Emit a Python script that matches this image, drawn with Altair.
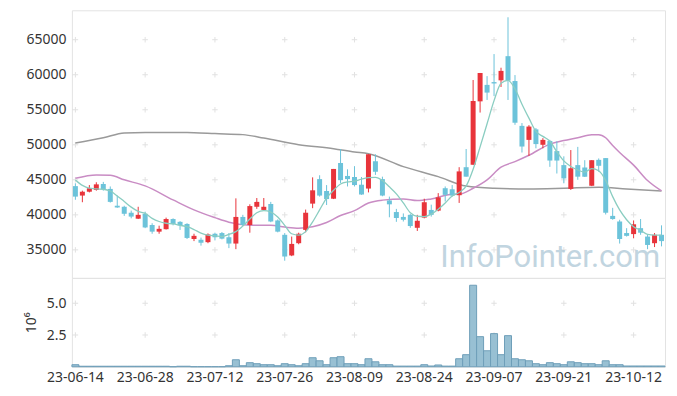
import altair as alt
import pandas as pd

# ---- categories: KRX trading days 2023-06-14 .. 2023-10-18 ----
holidays = ["2023-08-15", "2023-09-28", "2023-09-29", "2023-10-02", "2023-10-03", "2023-10-09"]
days = [d for d in pd.bdate_range("2023-06-14", "2023-10-18") if d.strftime("%Y-%m-%d") not in holidays]
dates = [d.strftime("%y-%m-%d") for d in days]

opens = [44100, 42750, 43300, 43550, 44400, 43700, 41300, 41150, 40300, 39450,
         40150, 38550, 37600, 37950, 39400, 39000, 38700, 36550, 36450, 36100,
         37300, 37400, 36800, 35900, 39700, 38550, 41150, 40700, 41550, 39200,
         37150, 34200, 35950, 37850, 41600, 45100, 43400, 42300, 47400, 45550,
         45400, 44300, 43750, 47650, 45100, 42050, 40400, 39700, 40000, 38150,
         39600, 40700, 40600, 43800, 43650, 42800, 46800, 47150, 56200, 58550,
         58950, 59200, 62650, 59100, 52700, 50700, 52200, 50000, 50550, 49100,
         47100, 43700, 47100, 46750, 44150, 47850, 48100, 39850, 39050, 37400,
         37250, 38100, 36900, 35950, 37150]
highs = [44500, 43450, 44250, 44650, 44700, 44050, 42750, 41300, 40600, 41150,
         40450, 38800, 38450, 39600, 39500, 39100, 38800, 37300, 36750, 37350,
         37450, 37550, 37400, 42350, 40000, 41500, 42400, 42400, 41850, 39350,
         37400, 36900, 37450, 40750, 45350, 45650, 44250, 46550, 49400, 46500,
         46950, 45400, 48650, 48650, 45450, 42600, 40850, 40200, 40100, 40000,
         42300, 41450, 43100, 44050, 44250, 46800, 49400, 59250, 60250, 59800,
         62950, 61000, 68200, 59950, 53100, 52800, 52400, 50950, 50700, 50500,
         48350, 49250, 49700, 47800, 47800, 48050, 48100, 41000, 39300, 38100,
         39200, 39400, 37250, 37400, 38500]
lows = [42150, 41800, 43200, 43450, 43450, 41750, 41000, 39850, 39500, 39400,
        38100, 37300, 37300, 37900, 38500, 37850, 36550, 36250, 35600, 35950,
        36350, 36500, 35250, 35100, 38400, 37450, 40850, 40650, 38950, 37500,
        33450, 34100, 35800, 37500, 40950, 42600, 41400, 42250, 44550, 44050,
        44050, 42850, 43200, 45700, 42650, 39650, 39000, 39050, 38150, 37700,
        39500, 39750, 40500, 41900, 42600, 41700, 45450, 47150, 54600, 56400,
        56950, 58250, 56400, 52850, 48900, 48400, 49500, 49500, 46850, 45900,
        44500, 43550, 45000, 45400, 44100, 46150, 40050, 39300, 35900, 36900,
        36650, 37150, 35100, 35400, 35500]
closes = [42600, 43300, 43800, 44350, 43650, 41850, 41050, 40150, 39750, 40000,
          38200, 37600, 38000, 39400, 38700, 38500, 36700, 37000, 36000, 37200,
          36800, 36600, 35900, 39700, 38550, 41250, 41850, 41150, 39050, 37600,
          34050, 35850, 37300, 40300, 43500, 42750, 42250, 46550, 44950, 45100,
          44250, 42900, 48650, 46150, 42750, 41500, 39550, 39300, 38400, 39150,
          41800, 40000, 42500, 42850, 42750, 46200, 45450, 56250, 60250, 57450,
          58750, 60550, 59150, 53150, 49750, 52600, 50100, 50700, 47750, 47750,
          45200, 46650, 45450, 45450, 47800, 47000, 40300, 39400, 36550, 37000,
          38650, 37450, 35700, 37150, 36250]
volume_m = [0.16, 0.04, 0.04, 0.04, 0.04, 0.04, 0.04, 0.04, 0.04, 0.04,
            0.04, 0.04, 0.04, 0.04, 0.0, 0.04, 0.04, 0.0, 0.0, 0.0,
            0.0, 0.0, 0.08, 0.55, 0.08, 0.32, 0.24, 0.16, 0.16, 0.08,
            0.24, 0.16, 0.08, 0.24, 0.71, 0.47, 0.16, 0.71, 0.79, 0.24,
            0.24, 0.16, 0.63, 0.39, 0.16, 0.16, 0.05, 0.05, 0.05, 0.05,
            0.16, 0.06, 0.14, 0.05, 0.05, 0.63, 0.95, 6.42, 2.37, 1.26,
            2.61, 0.95, 2.45, 0.63, 0.55, 0.47, 0.24, 0.16, 0.32, 0.24,
            0.16, 0.39, 0.32, 0.24, 0.24, 0.16, 0.47, 0.16, 0.16, 0.06,
            0.06, 0.06, 0.06, 0.06, 0.06]
ma5 = [44980, 44200, 43800, 43700, 43650, 43400, 42700, 41900, 41100, 40500,
       40200, 39500, 39050, 38800, 38700, 38500, 38300, 37900, 37400, 37100,
       37000, 36900, 37200, 37600, 38400, 39400, 40300, 40600, 40400, 39700,
       38500, 37300, 37100, 37600, 39000, 40700, 42400, 43500, 44400, 44700,
       44800, 45100, 45300, 45350, 44900, 44000, 43000, 41700, 40300, 39800,
       39750, 40100, 40800, 41700, 42700, 43200, 44100, 46500, 49700, 53000,
       56300, 58800, 59200, 58000, 55800, 53800, 51900, 51200, 50500, 49000,
       47700, 46900, 46400, 46100, 46600, 46300, 44900, 42600, 40700, 39300,
       38300, 37800, 37200, 37100, 37100]
ma20_idx = [0, 3, 5, 7, 10, 14, 17, 20, 22, 25, 28, 30, 32, 34, 36, 38, 40, 42, 44, 47,
            49, 51, 54, 55, 57, 59, 61, 63, 65, 68, 70, 72, 74, 75, 76, 77, 78, 80, 82, 84]
ma20_val = [45220, 45700, 45650, 45000, 44130, 42130, 40700, 39600, 38950, 38520,
            38500, 38250, 38090, 38300, 38900, 39900, 40600, 41700, 42100, 42270,
            42030, 42270, 42940, 42950, 43800, 45000, 46800, 47600, 48500, 50100,
            50600, 51000, 51450, 51450, 51000, 49900, 48900, 47100, 44900, 43420]
ma120_idx = [0, 4, 7, 10, 14, 17, 20, 24, 27, 32, 37, 40, 42, 47, 52, 56, 60, 65, 70, 75, 79, 84]
ma120_val = [50260, 51000, 51680, 51770, 51750, 51730, 51600, 51450, 50970, 50020,
             49450, 48980, 48730, 46880, 45450, 44100, 43800, 43700, 43800, 43940,
             43700, 43420]

x_ticks = dates[::10]
y_ticks = [35000, 40000, 45000, 50000, 55000, 60000, 65000]
vol_ticks = [2.5, 5.0]

RED = "#e8343b"
BLUE = "#6cc3da"
FONT = "Noto Sans"
W = 594

df = pd.DataFrame({"date": dates, "open": opens, "high": highs, "low": lows,
                   "close": closes, "vol": volume_m, "ma5": ma5})
df["dir"] = ["up" if c >= o else "down" for o, c in zip(opens, closes)]
ma20_df = pd.DataFrame({"date": [dates[i] for i in ma20_idx], "v": ma20_val})
ma120_df = pd.DataFrame({"date": [dates[i] for i in ma120_idx], "v": ma120_val})
cross_df = pd.DataFrame([{"date": d, "y": y} for d in x_ticks for y in y_ticks])
vcross_df = pd.DataFrame([{"date": d, "y": y} for d in x_ticks for y in vol_ticks])

xscale = alt.Scale(domain=dates, paddingInner=0, paddingOuter=0)
x_top = alt.X("date:O", sort=dates, scale=xscale, axis=None)
yscale = alt.Scale(domain=[31000, 69200], nice=False, zero=False)
color = alt.Color("dir:N", scale=alt.Scale(domain=["up", "down"], range=[RED, BLUE]), legend=None)
CROSS = "M-1,0L1,0M0,-1L0,1"

base = alt.Chart(df)
crosses = alt.Chart(cross_df).mark_point(shape=CROSS, size=30, filled=False,
                                         stroke="#d6d6d6", strokeWidth=1).encode(
    x=x_top,
    y=alt.Y("y:Q", scale=yscale,
            axis=alt.Axis(values=y_ticks, format="d", title=None, labelPadding=6)),
)
wicks = base.mark_rule(strokeWidth=1).encode(x=x_top, y=alt.Y("low:Q", scale=yscale), y2="high:Q", color=color)
bodies = base.mark_bar(size=5).encode(x=x_top, y=alt.Y("open:Q", scale=yscale), y2="close:Q", color=color)
line120 = alt.Chart(ma120_df).mark_line(color="#9a9a9a", strokeWidth=1.5, interpolate="monotone").encode(
    x=x_top, y=alt.Y("v:Q", scale=yscale))
line20 = alt.Chart(ma20_df).mark_line(color="#c98cc4", strokeWidth=1.5, interpolate="monotone").encode(
    x=x_top, y=alt.Y("v:Q", scale=yscale))
line5 = base.mark_line(color="#8acdc1", strokeWidth=1.3, interpolate="monotone").encode(
    x=x_top, y=alt.Y("ma5:Q", scale=yscale))
watermark = alt.Chart(pd.DataFrame({"t": ["InfoPointer.com"]})).mark_text(
    font="Roboto", fontSize=31, color="#adc7d6", opacity=0.75, align="right", baseline="alphabetic"
).encode(text="t:N", x=alt.value(589), y=alt.value(257))

top = alt.layer(crosses, line120, line20, wicks, bodies, line5, watermark).properties(width=W, height=268)

x_bot = alt.X("date:O", sort=dates, scale=xscale,
              axis=alt.Axis(values=x_ticks, labelAngle=0, title=None, labelPadding=4))
vscale = alt.Scale(domain=[0, 7.0], nice=False)
vcross = alt.Chart(vcross_df).mark_point(shape=CROSS, size=30, filled=False,
                                         stroke="#d6d6d6", strokeWidth=1).encode(
    x=x_bot,
    y=alt.Y("y:Q", scale=vscale,
            axis=alt.Axis(values=vol_ticks, format=".1f", title="10⁶", titlePadding=8, labelPadding=6)),
)
vbars = base.mark_bar(size=7, fill="#98c0d3", stroke="#6e9fb9", strokeWidth=1).encode(
    x=x_bot, y=alt.Y("vol:Q", scale=vscale))
bottom = alt.layer(vcross, vbars).properties(width=W, height=89)

chart = alt.vconcat(top, bottom, spacing=0, bounds="flush").properties(
    padding={"left": 15, "top": 1, "right": 2, "bottom": 5},
).configure_view(stroke="#e3e3e3").configure_axis(
    domain=False, ticks=False, grid=False,
    labelFont=FONT, labelFontSize=14, labelColor="#333333",
    titleFont=FONT, titleFontSize=14, titleFontWeight="normal", titleColor="#333333",
)

chart.save("out.html", embed_options={"renderer": "svg", "actions": False})
